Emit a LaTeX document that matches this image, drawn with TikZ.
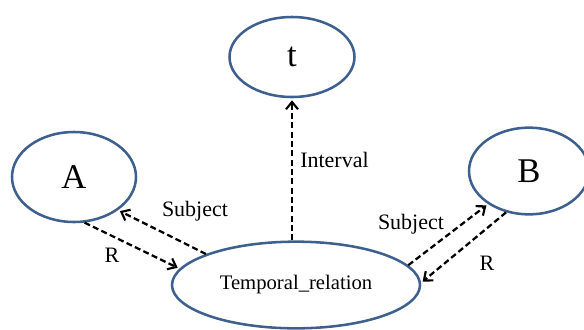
\documentclass[tikz,border=0pt]{standalone}
\usepackage{fontspec}
\setmainfont{Liberation Serif}
\usepackage{tikz}
\usetikzlibrary{shapes.geometric,arrows.meta}

\definecolor{nodeblue}{RGB}{62,96,142}

\tikzset{
  entity/.style={ellipse,draw=nodeblue,line width=1.9pt,inner sep=0pt},
  relarrow/.style={-{Straight Barb[length=5.5pt,width=9pt,line width=1.6pt]},line width=1.7pt,dash pattern=on 4.5pt off 2.5pt,shorten >=1.5pt},
  rellabel/.style={inner sep=0.75pt,font=\fontsize{16.5}{18}\selectfont}
}

\begin{document}
\begin{tikzpicture}[x=0.75pt,y=0.75pt,yscale=-1,xscale=1]
        \useasboundingbox (0,0) rectangle (584,329);
        %Shape: Ellipse [id:t]
        \node [entity,minimum width=93.75pt,minimum height=60pt,font=\fontsize{26}{28}\selectfont] (t) at (292,57) {t};
        %Shape: Ellipse [id:A]
        \node [entity,minimum width=93pt,minimum height=67.5pt,font=\fontsize{26}{28}\selectfont] (A) at (74,177) {A};
        %Shape: Ellipse [id:B]
        \node [entity,minimum width=90pt,minimum height=65pt,font=\fontsize{26}{28}\selectfont] (B) at (529,171) {B};
        %Shape: Ellipse [id:rel]
        \node [entity,minimum width=186pt,minimum height=65pt,font=\fontsize{15.5}{17}\selectfont] (rel) at (296,285) {Temporal\_relation};
        %Straight Lines [id:interval]
        \draw [relarrow] (rel.north -| t.south) -- (t.south);
        %Straight Lines [id:subjA]
        \draw [relarrow] (rel.161) -- (A.-37);
        %Straight Lines [id:rA]
        \draw [relarrow] (A.-77) -- (rel.172);
        %Straight Lines [id:subjB]
        \draw [relarrow] (rel.10) -- (B.-141);
        %Straight Lines [id:rB]
        \draw [relarrow] (B.-119) -- (rel.1);
        % Text Node
        \draw (299,160) node [anchor=west][rellabel]  {Interval};
        \draw (195,211) node [rellabel]  {Subject};
        \draw (112,255) node [rellabel]  {R};
        \draw (411,224) node [rellabel]  {Subject};
        \draw (487,263) node [rellabel]  {R};
\end{tikzpicture}
\end{document}
